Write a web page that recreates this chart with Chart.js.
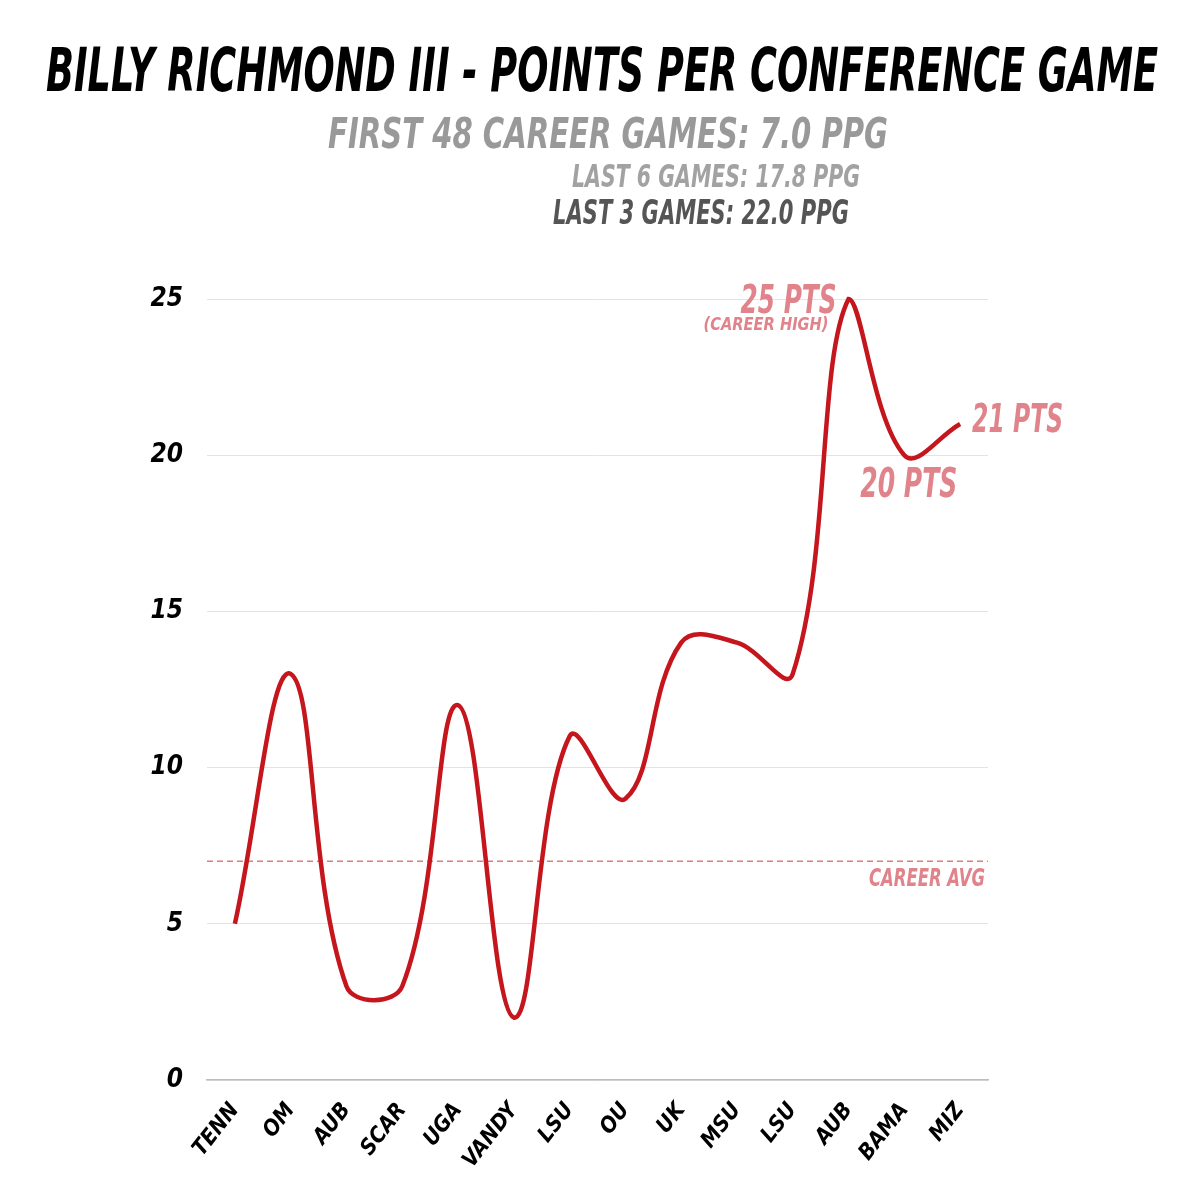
<!DOCTYPE html>
<html>
<head>
<meta charset="utf-8">
<script src="https://cdn.jsdelivr.net/npm/chart.js@4"></script>
<style>
  body { margin: 0; background: #fff; }
  #wrap { width: 1200px; height: 1200px; }
</style>
</head>
<body>
<div id="wrap"><canvas id="ppgChart" width="1200" height="1200"></canvas></div>
<script>
// data
const games = ['TENN', 'OM', 'AUB', 'SCAR', 'UGA', 'VANDY', 'LSU', 'OU', 'UK', 'MSU', 'LSU', 'AUB', 'BAMA', 'MIZ'];
const points = [5, 13, 3, 3, 12, 2, 11, 9, 14, 14, 13, 25, 20, 21];
const yTicks = [0, 5, 10, 15, 20, 25];
const careerAvg = 7;

const titleText = 'BILLY RICHMOND III - POINTS PER CONFERENCE GAME';
const subTitles = ['FIRST 48 CAREER GAMES: 7.0 PPG', 'LAST 6 GAMES: 17.8 PPG', 'LAST 3 GAMES: 22.0 PPG'];

const FONT = "'Liberation Sans Narrow', 'DejaVu Sans Condensed', 'Roboto', sans-serif";
const LINE_RED = '#c4161c';
const NOTE_RED = '#e0838a';

// draws bold italic text squeezed/stretched to a given width
function fitText(ctx, text, x, baseline, size, width, color, align) {
  ctx.save();
  ctx.font = 'italic bold ' + size + 'px ' + FONT;
  ctx.fillStyle = color;
  ctx.textBaseline = 'alphabetic';
  ctx.textAlign = 'left';
  const w = ctx.measureText(text).width;
  const s = width / w;
  const left = align === 'right' ? x - width : x;
  ctx.translate(left, baseline);
  ctx.scale(s, 1);
  ctx.fillText(text, 0, 0);
  ctx.restore();
}

const textPlugin = {
  id: 'textPlugin',
  beforeDatasetsDraw(chart) {
    const { ctx, chartArea, scales } = chart;
    const y = scales.y.getPixelForValue(careerAvg);
    ctx.save();
    ctx.strokeStyle = '#e27a7f';
    ctx.lineWidth = 1.6;
    ctx.setLineDash([6, 4]);
    ctx.beginPath();
    ctx.moveTo(chartArea.left, y);
    ctx.lineTo(chartArea.right, y);
    ctx.stroke();
    ctx.restore();
  },
  afterDraw(chart) {
    const { ctx, chartArea, scales } = chart;
    const xs = scales.x, ys = scales.y;

    fitText(ctx, titleText, 46, 91, 60, 1112, '#000');
    fitText(ctx, subTitles[0], 328, 148, 42, 560, '#999999');
    fitText(ctx, subTitles[1], 572, 187, 32, 288, '#a2a2a2');
    fitText(ctx, subTitles[2], 553, 224, 34, 296, '#555555');

    const n = points.length;
    const iMax = points.indexOf(Math.max(...points));
    const px = xs.getPixelForValue(iMax), py = ys.getPixelForValue(points[iMax]);
    fitText(ctx, points[iMax] + ' PTS', px - 12, py + 14, 39, 96, NOTE_RED, 'right');
    fitText(ctx, '(CAREER HIGH)', px - 20, py + 31, 17, 125, NOTE_RED, 'right');

    const lx = xs.getPixelForValue(n - 1), ly = ys.getPixelForValue(points[n - 1]);
    fitText(ctx, points[n - 1] + ' PTS', lx + 12, ly + 8, 39, 91, NOTE_RED);

    const bx = xs.getPixelForValue(n - 2), by = ys.getPixelForValue(points[n - 2]);
    fitText(ctx, points[n - 2] + ' PTS', bx - 44, by + 42, 40, 97, NOTE_RED);

    const ay = ys.getPixelForValue(careerAvg);
    fitText(ctx, 'CAREER AVG', chartArea.right - 3, ay + 25, 24, 116, NOTE_RED, 'right');
  }
};

const tickFont = { family: FONT, weight: 'bold', style: 'italic' };

new Chart(document.getElementById('ppgChart').getContext('2d'), {
  type: 'line',
  data: {
    labels: games,
    datasets: [{
      data: points,
      borderColor: LINE_RED,
      borderWidth: 4.5,
      pointRadius: 0,
      tension: 0.4,
      fill: false,
      clip: false
    }]
  },
  options: {
    responsive: false,
    animation: false,
    devicePixelRatio: 1,
    layout: { padding: { top: 299, right: 212, left: 0, bottom: 0 } },
    plugins: {
      legend: { display: false },
      tooltip: { enabled: false }
    },
    scales: {
      x: {
        offset: true,
        grid: { display: false },
        border: { display: true, color: '#bdbdbd', width: 1.5 },
        ticks: {
          color: '#000',
          font: Object.assign({ size: 22 }, tickFont),
          minRotation: 52,
          maxRotation: 52,
          padding: 10,
          autoSkip: false
        },
        afterFit(scale) { scale.height = 120; }
      },
      y: {
        min: yTicks[0],
        max: yTicks[yTicks.length - 1],
        afterBuildTicks(scale) { scale.ticks = yTicks.map(v => ({ value: v })); },
        grid: { color: '#e3e3e3', lineWidth: 1, drawTicks: false },
        border: { display: false },
        ticks: {
          color: '#000',
          font: Object.assign({ size: 26 }, tickFont),
          padding: 24
        },
        afterFit(scale) { scale.width = 207; }
      }
    }
  },
  plugins: [textPlugin]
});
</script>
</body>
</html>
